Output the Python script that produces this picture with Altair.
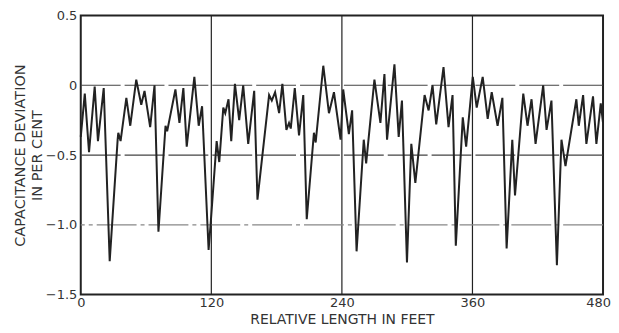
import altair as alt
import pandas as pd

length_ft = [0, 3.7, 7.6, 12.8, 15.8, 21.1, 26.6, 33.9, 34.5, 36.6, 41.9, 45.5, 51.0, 55.6, 58.6, 63.8,
             67.8, 71.4, 77.9, 79.4, 87.0, 90.7, 94.3, 97.4, 104.4, 108.4, 111.5, 117.5, 119.3, 124.9,
             127.3, 131.0, 132.8, 135.8, 138.3, 141.7, 145.6, 149.3, 153.9, 159.4, 162.4, 173.1, 175.6,
             178.6, 182.3, 185.3, 189.0, 191.4, 193.0, 196.7, 200.6, 204.5, 207.7, 214.3, 215.9, 222.9,
             228.1, 232.7, 238.8, 241.2, 246.4, 249.4, 253.5, 260.1, 262.3, 269.9, 275.4, 279.1, 281.5,
             288.3, 292.2, 295.2, 299.8, 303.8, 307.5, 316.0, 319.7, 323.3, 326.7, 333.4, 338.0, 341.7,
             344.7, 351.1, 354.2, 360.3, 363.9, 369.4, 374.0, 377.7, 383.1, 387.5, 391.4, 396.6, 399.1,
             406.7, 410.6, 414.3, 418.0, 425.0, 428.1, 432.6, 437.6, 441.8, 445.5, 455.5, 457.7, 461.7,
             464.7, 470.8, 473.9, 477.9, 480]
deviation = [-0.37, -0.06, -0.48, -0.01, -0.40, -0.02, -1.26, -0.39, -0.34, -0.40, -0.09, -0.29, 0.04, -0.14,
             -0.04, -0.30, 0.0, -1.05, -0.29, -0.33, -0.03, -0.27, -0.02, -0.44, 0.06, -0.29, -0.15, -1.18,
             -1.00, -0.40, -0.55, -0.16, -0.20, -0.10, -0.40, 0.01, -0.25, 0.0, -0.42, -0.04, -0.82, -0.07,
             -0.11, -0.05, -0.20, 0.01, -0.32, -0.27, -0.31, -0.02, -0.36, -0.07, -0.96, -0.34, -0.41, 0.14,
             -0.20, -0.05, -0.39, -0.03, -0.35, -0.18, -1.19, -0.39, -0.56, 0.04, -0.27, 0.08, -0.39, 0.15,
             -0.37, -0.11, -1.27, -0.42, -0.70, -0.07, -0.18, 0.0, -0.28, 0.13, -0.30, -0.07, -1.15, -0.23,
             -0.44, 0.06, -0.16, 0.06, -0.24, -0.05, -0.29, -0.09, -1.17, -0.39, -0.79, -0.06, -0.29, -0.10,
             -0.42, 0.0, -0.32, -0.11, -1.29, -0.39, -0.58, -0.10, -0.29, -0.07, -0.42, -0.08, -0.42, -0.13,
             -0.27]

x_ticks = [0, 120, 240, 360, 480]
y_ticks = [0.5, 0, -0.5, -1.0, -1.5]
v_grid = [120, 240, 360]
h_grid = [0, -0.5]
h_grid_light = [-1.0]

df = pd.DataFrame({"x": length_ft, "y": deviation})

FONT = "DejaVu Sans"
xs = alt.Scale(domain=[0, 480], nice=False, zero=False)
ys = alt.Scale(domain=[-1.5, 0.5], nice=False, zero=False)

vrules = alt.Chart(pd.DataFrame({"x": v_grid})).mark_rule(color="#222", strokeWidth=1.2).encode(
    x=alt.X("x:Q", scale=xs))
hrules = alt.Chart(pd.DataFrame({"y": h_grid})).mark_rule(
    color="#444", strokeWidth=1.2, strokeDash=[40, 4]).encode(y=alt.Y("y:Q", scale=ys))
hrules2 = alt.Chart(pd.DataFrame({"y": h_grid_light})).mark_rule(
    color="#888", strokeWidth=1.2, strokeDash=[40, 4, 4, 4]).encode(y=alt.Y("y:Q", scale=ys))

line = alt.Chart(df).mark_line(color="#222", strokeWidth=2, strokeJoin="miter").encode(
    x=alt.X("x:Q", scale=xs,
            axis=alt.Axis(values=x_ticks, title="RELATIVE LENGTH IN FEET", grid=False, ticks=False,
                          domain=False, labelFont=FONT, labelFontSize=13, labelColor="#333",
                          labelPadding=2, labelFlush=False,
                          labelOffset={"condition": {"test": "datum.value == 480", "value": -5}, "value": 0},
                          titleFont=FONT, titleFontSize=14,
                          titleFontWeight="normal", titleColor="#333", titlePadding=3)),
    y=alt.Y("y:Q", scale=ys,
            axis=alt.Axis(values=y_ticks, title=["CAPACITANCE  DEVIATION", "IN  PER  CENT"], grid=False,
                          ticks=False, domain=False, labelFont=FONT, labelFontSize=13, labelColor="#333",
                          labelPadding=4, labelFlush=False,
                          labelExpr="datum.value == 0 ? '0' : format(datum.value, '.1f')",
                          titleFont=FONT, titleFontSize=14.5, titleFontWeight="normal",
                          titleColor="#333", titlePadding=1, titleLineHeight=17)),
)

chart = alt.layer(vrules, hrules, hrules2, line).properties(
    width=524, height=280,
    background="white",
    autosize=alt.AutoSizeParams(type="none"),
    padding={"left": 73, "top": 7, "right": 8, "bottom": 34},
).configure_view(stroke="#222", strokeWidth=2)

chart.save("out.html", embed_options={"renderer": "svg", "actions": False})
